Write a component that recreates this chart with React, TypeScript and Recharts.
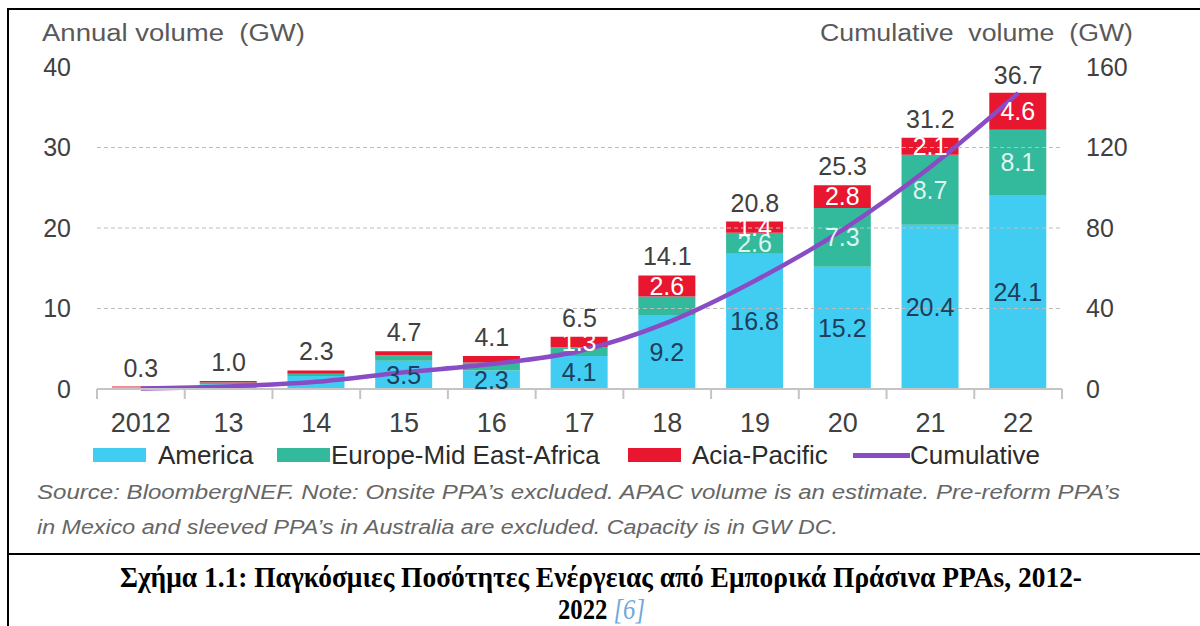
// Global green PPA volumes 2012-2022: stacked annual bars (left axis) + cumulative line (right axis)
import { Bar, ComposedChart, LabelList, Legend, Line, ReferenceLine, XAxis, YAxis } from 'recharts'

const YEARS = ['2012', '13', '14', '15', '16', '17', '18', '19', '20', '21', '22']
const AMERICA = [0.2, 0.6, 1.6, 3.5, 2.3, 4.1, 9.2, 16.8, 15.2, 20.4, 24.1]
const EMEA = [0.05, 0.2, 0.3, 0.7, 1.0, 1.1, 2.3, 2.6, 7.3, 8.7, 8.1]
const APAC = [0.05, 0.2, 0.4, 0.5, 0.8, 1.3, 2.6, 1.4, 2.8, 2.1, 4.6]
const TOTAL = [0.3, 1.0, 2.3, 4.7, 4.1, 6.5, 14.1, 20.8, 25.3, 31.2, 36.7]
const CUMULATIVE = [0.3, 1.3, 3.6, 8.3, 12.4, 18.9, 33.0, 53.8, 79.1, 110.3, 147.0]

const LEFT_TICKS = [0, 10, 20, 30, 40]
const RIGHT_TICKS = [0, 40, 80, 120, 160]
const GRID_VALUES = [10, 20, 30]

const rows = YEARS.map((year, i) => ({
  year,
  america: AMERICA[i],
  emea: EMEA[i],
  apac: APAC[i],
  total: TOTAL[i],
  cumulative: CUMULATIVE[i],
}))

// 描画色
const C_AM = '#41CDF1'
const C_EU = '#33B99B'
const C_AP = '#E8162F'
const C_CUM = '#8A4CC4'
const AXIS = '#C4C4C4'
const TXT = '#404040'

const W = 1200
const H = 473
const MARGIN = { top: 67, right: 78, bottom: 0, left: 57 }
const PLOT_W = W - MARGIN.left - MARGIN.right - 40 - 60
const BAND = PLOT_W / YEARS.length

// X軸 tick：区切り位置に短い目盛り＋年ラベル
function YearTick(props: any) {
  const { x = 0, y = 0, payload, index } = props
  const half = BAND / 2
  return (
    <g>
      <line x1={x - half} x2={x - half} y1={y} y2={y + 10} stroke={AXIS} strokeWidth={2} />
      {index === YEARS.length - 1 && (
        <line x1={x + half} x2={x + half} y1={y} y2={y + 10} stroke={AXIS} strokeWidth={2} />
      )}
      <text x={x} y={y + 43} textAnchor="middle" fill={TXT} fontSize={27}>
        {payload.value}
      </text>
    </g>
  )
}

const LEGEND = [
  { label: 'America', color: C_AM, left: 93, textLeft: 158, line: false },
  { label: 'Europe-Mid East-Africa', color: C_EU, left: 277, textLeft: 331, line: false },
  { label: 'Acia-Pacific', color: C_AP, left: 628, textLeft: 692, line: false },
  { label: 'Cumulative', color: C_CUM, left: 853, textLeft: 910, line: true },
]

function LegendRow() {
  return (
    <div style={{ position: 'relative', width: W, height: 36 }}>
      {LEGEND.map((it) => (
        <div key={it.label}>
          <div
            style={{
              position: 'absolute',
              left: it.left,
              top: it.line ? 16 : 11,
              width: it.line ? 57 : 53,
              height: it.line ? 5 : 14,
              background: it.color,
            }}
          />
          <div
            style={{
              position: 'absolute',
              left: it.textLeft,
              top: 2,
              fontSize: 26,
              lineHeight: '32px',
              color: '#2b2b2b',
              whiteSpace: 'nowrap',
            }}
          >
            {it.label}
          </div>
        </div>
      ))}
    </div>
  )
}

const fmt = (min: number) => (v: any) => (typeof v === 'number' && v >= min ? v.toFixed(1) : '')

export default function App() {
  return (
    <div
      style={{
        position: 'absolute',
        left: 0,
        top: 0,
        width: W,
        height: 626,
        background: '#fff',
        fontFamily: '"Liberation Sans", Arial, sans-serif',
        overflow: 'hidden',
      }}
    >
      <ComposedChart width={W} height={H} data={rows} margin={MARGIN}>
        {GRID_VALUES.map((v) => (
          <ReferenceLine key={v} yAxisId="left" y={v} stroke="#BDBDBD" strokeDasharray="4 3" />
        ))}
        <XAxis
          dataKey="year"
          axisLine={{ stroke: AXIS, strokeWidth: 2 }}
          tickLine={false}
          tickSize={0}
          tickMargin={0}
          interval={0}
          height={48}
          tick={<YearTick />}
        />
        <YAxis
          yAxisId="left"
          orientation="left"
          domain={[0, 40]}
          ticks={LEFT_TICKS}
          width={40}
          axisLine={false}
          tickLine={false}
          tickMargin={20}
          tick={{ fill: TXT, fontSize: 25 }}
        />
        <YAxis
          yAxisId="right"
          orientation="right"
          domain={[0, 160]}
          ticks={RIGHT_TICKS}
          width={60}
          axisLine={false}
          tickLine={false}
          tickMargin={18}
          tick={{ fill: TXT, fontSize: 25, textAnchor: 'start' }}
        />
        <Legend verticalAlign="bottom" content={() => <LegendRow />} wrapperStyle={{ left: 0, width: W }} />

        <Bar yAxisId="left" dataKey="america" stackId="a" fill={C_AM} barSize={57} isAnimationActive={false}>
          <LabelList dataKey="america" position="center" fill="#1E3E5C" fontSize={25} formatter={fmt(2)} />
        </Bar>
        <Bar yAxisId="left" dataKey="emea" stackId="a" fill={C_EU} barSize={57} isAnimationActive={false}>
          <LabelList dataKey="emea" position="center" fill="#DDF5EF" fontSize={25} formatter={fmt(2.5)} />
        </Bar>
        <Bar yAxisId="left" dataKey="apac" stackId="a" fill={C_AP} barSize={57} isAnimationActive={false}>
          <LabelList dataKey="apac" position="center" fill="#FFFFFF" fontSize={25} formatter={fmt(1)} />
        </Bar>

        {/* 合計ラベル用の見えない線 */}
        <Line
          yAxisId="left"
          dataKey="total"
          stroke="none"
          dot={false}
          activeDot={false}
          legendType="none"
          isAnimationActive={false}
        >
          <LabelList dataKey="total" position="top" offset={10} fill={TXT} fontSize={25} formatter={fmt(0)} />
        </Line>

        <Line
          yAxisId="right"
          type="monotone"
          dataKey="cumulative"
          stroke={C_CUM}
          strokeWidth={4.5}
          dot={false}
          activeDot={false}
          isAnimationActive={false}
        />
      </ComposedChart>

      <svg
        width={W}
        height={626}
        style={{ position: 'absolute', left: 0, top: 0, pointerEvents: 'none' }}
      >
        {/* 枠線 */}
        <rect x={7} y={8} width={W - 7} height={2} fill="#000" />
        <rect x={7} y={8} width={2} height={626 - 8} fill="#000" />
        <rect x={7} y={553} width={W - 7} height={2} fill="#000" />

        <text x={42} y={41} fontSize={23} fill="#595959" textLength={263} lengthAdjust="spacingAndGlyphs" style={{ whiteSpace: 'pre' }}>
          {'Annual volume  (GW)'}
        </text>
        <text x={820} y={41} fontSize={23} fill="#595959" textLength={313} lengthAdjust="spacingAndGlyphs" style={{ whiteSpace: 'pre' }}>
          {'Cumulative  volume  (GW)'}
        </text>

        <text x={37} y={499} fontSize={20} fontStyle="italic" fill="#666" textLength={1083} lengthAdjust="spacingAndGlyphs">
          Source: BloombergNEF. Note: Onsite PPA’s excluded. APAC volume is an estimate. Pre-reform PPA’s
        </text>
        <text x={37} y={534} fontSize={20} fontStyle="italic" fill="#666" textLength={801} lengthAdjust="spacingAndGlyphs">
          in Mexico and sleeved PPA’s in Australia are excluded. Capacity is in GW DC.
        </text>

        <text
          x={120}
          y={587}
          fontSize={29}
          fontWeight="bold"
          fill="#000"
          fontFamily='"Liberation Serif", "Times New Roman", serif'
          textLength={962}
          lengthAdjust="spacingAndGlyphs"
        >
          Σχήμα 1.1: Παγκόσμιες Ποσότητες Ενέργειας από Εμπορικά Πράσινα PPAs, 2012-
        </text>
        <text
          x={558}
          y={619}
          fontSize={29}
          fill="#000"
          fontFamily='"Liberation Serif", "Times New Roman", serif'
          textLength={87}
          lengthAdjust="spacingAndGlyphs"
          style={{ whiteSpace: 'pre' }}
        >
          <tspan fontWeight="bold">2022 </tspan>
          <tspan fontStyle="italic" fill="#6FA8DC">[6]</tspan>
        </text>
      </svg>
    </div>
  )
}
